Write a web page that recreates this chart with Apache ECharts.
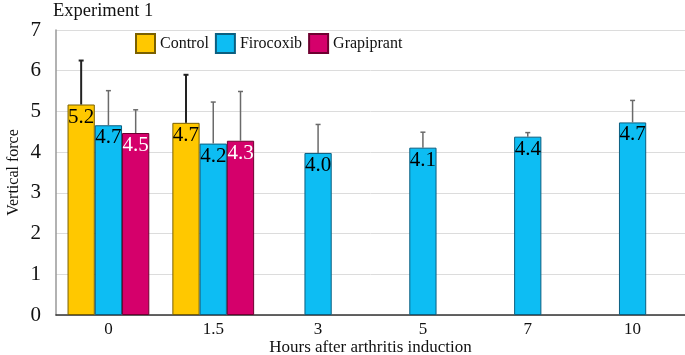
<!DOCTYPE html>
<html>
<head>
<meta charset="utf-8">
<script src="https://cdn.jsdelivr.net/npm/echarts@6/dist/echarts.min.js"></script>
<style>
  html, body { margin: 0; padding: 0; background: #fff; }
  #chart { width: 685px; height: 355px; }
</style>
</head>
<body>
<div id="chart"></div>
<script>
// hours after induction
const hours = ['0', '1.5', '3', '5', '7', '10'];

// group means
const controlMean = [5.17, 4.72, null, null, null, null];
const firocoxibMean = [4.66, 4.21, 3.98, 4.11, 4.38, 4.73];
const grapiprantMean = [4.47, 4.28, null, null, null, null];

// upper error (sd)
const controlErr = [1.08, 1.18, null, null, null, null];
const firocoxibErr = [0.85, 1.02, 0.70, 0.38, 0.10, 0.54];
const grapiprantErr = [0.57, 1.21, null, null, null, null];

const serif = '"Liberation Serif", "Times New Roman", serif';

const chart = echarts.init(document.getElementById('chart'));

function errData(means, errs) {
  const out = [];
  for (let i = 0; i < means.length; i++) {
    if (means[i] == null) continue;
    out.push([i, means[i], means[i] + errs[i]]);
  }
  return out;
}

function errSeries(means, errs, offset, color, width) {
  return {
    type: 'custom',
    z: 5,
    silent: true,
    data: errData(means, errs),
    renderItem: function (params, api) {
      const bw = api.size([1, 0])[0] * 0.26;
      const base = api.coord([api.value(0), api.value(1)]);
      const top = api.coord([api.value(0), api.value(2)]);
      const x = base[0] + offset * bw;
      const cap = 2.5;
      return {
        type: 'group',
        children: [
          { type: 'line', shape: { x1: x, y1: base[1], x2: x, y2: top[1] },
            style: { stroke: color, lineWidth: width } },
          { type: 'line', shape: { x1: x - cap, y1: top[1], x2: x + cap, y2: top[1] },
            style: { stroke: color, lineWidth: width } }
        ]
      };
    }
  };
}

function barSeries(name, data, fill, border, labelColor) {
  return {
    name: name,
    type: 'bar',
    data: data,
    barWidth: '26%',
    barGap: '0%',
    itemStyle: { color: fill, borderColor: border, borderWidth: 1 },
    label: {
      show: true,
      position: 'insideTop',
      distance: 2,
      fontFamily: serif,
      fontSize: 21,
      color: labelColor,
      formatter: p => p.value == null ? '' : p.value.toFixed(1)
    }
  };
}

chart.setOption({
  animation: false,
  title: {
    text: 'Experiment 1',
    left: 48,
    top: -3,
    textStyle: { fontFamily: serif, fontSize: 18.5, fontWeight: 'normal', color: '#111' }
  },
  legend: {
    data: ['Control', 'Firocoxib', 'Grapiprant'],
    left: 130,
    top: 28,
    icon: 'rect',
    itemWidth: 19,
    itemHeight: 19,
    itemGap: 6,
    textStyle: { fontFamily: serif, fontSize: 16, color: '#111' }
  },
  grid: { left: 56, right: 0, top: 30, bottom: 40, outerBoundsMode: 'none' },
  xAxis: {
    type: 'category',
    data: hours,
    name: 'Hours after arthritis induction',
    nameLocation: 'middle',
    nameGap: 24,
    nameMoveOverlap: false,
    nameTextStyle: { fontFamily: serif, fontSize: 17, color: '#111' },
    axisLine: { lineStyle: { color: '#333', width: 1.5 } },
    axisTick: { show: false },
    axisLabel: { fontFamily: serif, fontSize: 17, color: '#111', margin: 6 }
  },
  yAxis: {
    type: 'value',
    min: 0,
    max: 7,
    interval: 1,
    name: 'Vertical force',
    nameLocation: 'middle',
    nameGap: 34,
    nameMoveOverlap: false,
    nameTextStyle: { fontFamily: serif, fontSize: 16, color: '#111' },
    axisLine: { show: true, lineStyle: { color: '#999', width: 1.5 } },
    axisTick: { show: false },
    axisLabel: { fontFamily: serif, fontSize: 21, color: '#111', margin: 15 },
    splitLine: { lineStyle: { color: '#dcdcdc' } }
  },
  series: [
    barSeries('Control', controlMean, '#FFC800', '#7a6000', '#000'),
    barSeries('Firocoxib', firocoxibMean, '#0DBDF3', '#0b5f80', '#000'),
    barSeries('Grapiprant', grapiprantMean, '#D5006B', '#6e0030', '#fff'),
    errSeries(controlMean, controlErr, -1, '#222', 2),
    errSeries(firocoxibMean, firocoxibErr, 0, '#6a6a6a', 1.5),
    errSeries(grapiprantMean, grapiprantErr, 1, '#6a6a6a', 1.5)
  ]
});
</script>
</body>
</html>
